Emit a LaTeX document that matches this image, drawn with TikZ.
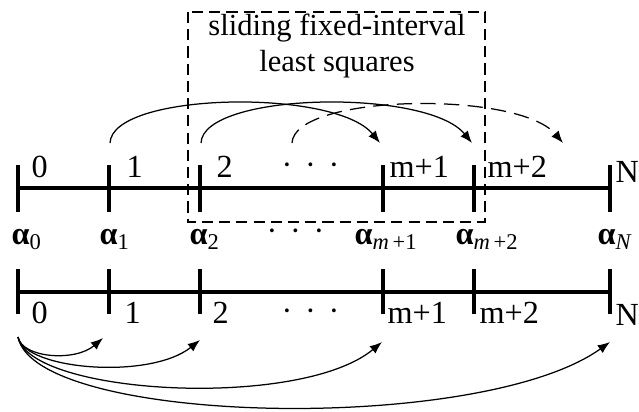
\documentclass[tikz,border=0pt]{standalone}
\usepackage{fontspec}
\setmainfont{Liberation Serif}
\usetikzlibrary{arrows.meta}

\begin{document}
\begin{tikzpicture}[x=0.36pt,y=-0.36pt,
  axis/.style={line width=1.2pt},
  lbl/.style={inner sep=0pt,anchor=base west,font=\fontsize{11.6}{13}\selectfont},
  arc/.style={line width=0.45pt,-{Latex[length=4.4pt,width=3.4pt]}},
  window/.style={line width=0.65pt,dash pattern=on 4pt off 2.2pt}]
\useasboundingbox (0,0) rectangle (639,411);

% window box and its title
\draw[window] (188,12) rectangle (485,222);
\node[lbl,anchor=base,font=\fontsize{11}{13}\selectfont] (title1) at (337,35) {sliding fixed-interval};
\node[lbl,anchor=base,font=\fontsize{11}{13}\selectfont] (title2) at (337,71) {least squares};

% upper time axis
\draw[axis] (18,188) -- (610,188);
\foreach \x in {18,109,200,383,474,610}{
\draw[axis] (\x,165) -- (\x,212);
}
\node[lbl] (u0) at (31,177) {0};
\node[lbl] (u1) at (126,177) {1};
\node[lbl] (u2) at (216,177) {2};
\node[lbl] (udots) at (281,175) {·\hspace{4.6pt}·\hspace{4.6pt}·};
\node[lbl] (um1) at (389,177) {m+1};
\node[lbl] (um2) at (487,177) {m+2};
\node[lbl] (uN) at (615,182) {N};

% parameters
\node[lbl] (al0) at (11,244) {\textbf{α}\textsubscript{0}};
\node[lbl] (al1) at (99,244) {\textbf{α}\textsubscript{1}};
\node[lbl] (al2) at (189,244) {\textbf{α}\textsubscript{2}};
\node[lbl] (adots) at (266,241) {·\hspace{4.6pt}·\hspace{4.6pt}·};
\node[lbl] (alm1) at (354,244) {\textbf{α}\textsubscript{\textit{m}\,+1}};
\node[lbl] (alm2) at (455,244) {\textbf{α}\textsubscript{\textit{m}\,+2}};
\node[lbl] (alN) at (597,244) {\textbf{α}\textsubscript{\textit{N}}};

% lower time axis
\draw[axis] (18,292) -- (610,292);
\foreach \x in {18,109,200,383,474,610}{
\draw[axis] (\x,269) -- (\x,314);
}
\node[lbl] (d0) at (31,323) {0};
\node[lbl] (d1) at (124,323) {1};
\node[lbl] (d2) at (212,323) {2};
\node[lbl] (ddots) at (281,321) {·\hspace{4.6pt}·\hspace{4.6pt}·};
\node[lbl] (dm1) at (387,323) {m+1};
\node[lbl] (dm2) at (479,323) {m+2};
\node[lbl] (dN) at (615,325) {N};

% sliding window arrows
\coordinate (s1) at (110,143);
\coordinate (s2) at (201,143);
\coordinate (s3) at (292,143);
\coordinate (t1) at (380,143);
\coordinate (t2) at (472,143);
\coordinate (t3) at (563,143);
\draw[arc] (s1) .. controls (112,92) and (335,88) .. (t1);
\draw[arc] (s2) .. controls (203,92) and (427,88) .. (t2);
\draw[arc,dash pattern=on 5.5pt off 3pt] (s3) .. controls (294,94) and (518,90) .. (t3);

% fixed-interval arrows from 0
\coordinate (o) at (18,337);
\coordinate (e1) at (103,338);
\coordinate (e2) at (200,340);
\coordinate (e3) at (382,342);
\coordinate (e4) at (610,342);
\draw[arc] (o) .. controls (22,358) and (75,362) .. (e1);
\draw[arc] (o) .. controls (25,370) and (150,380) .. (e2);
\draw[arc] (o) .. controls (30,395) and (300,410) .. (e3);
\draw[arc] (o) .. controls (35,425) and (480,435) .. (e4);
\end{tikzpicture}
\end{document}
